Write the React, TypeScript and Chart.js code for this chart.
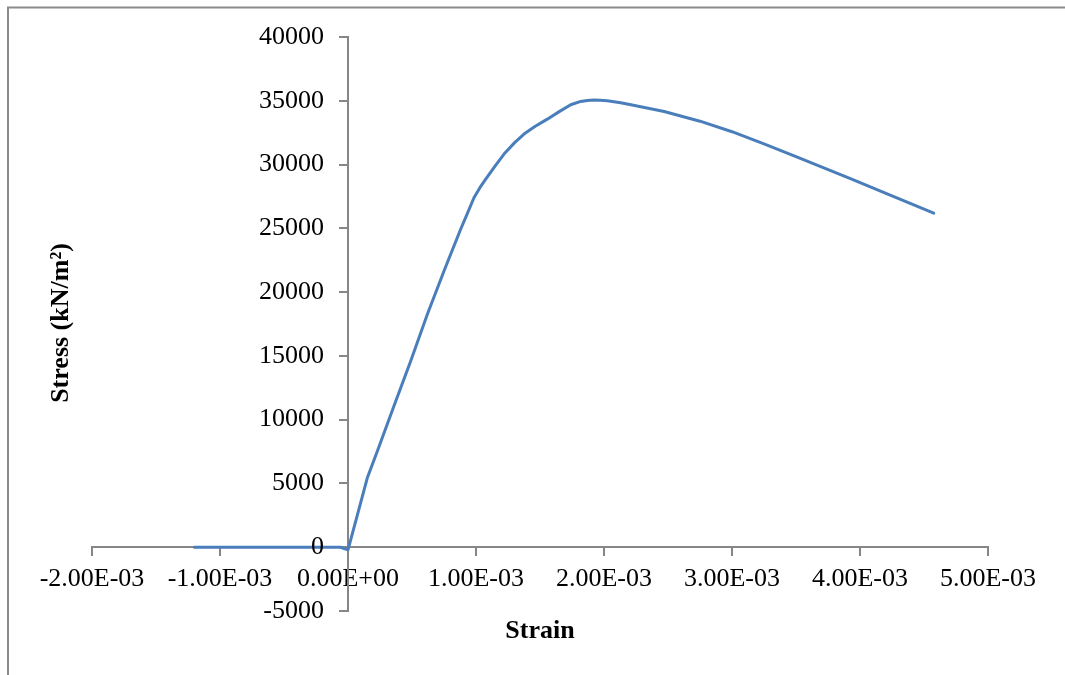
import React, { useEffect, useRef } from "react";
import { Chart, registerables } from "chart.js";

Chart.register(...registerables);

const strain = [
  -1.2e-3, -0.06e-3, 0, 0.151e-3, 0.229e-3, 0.359e-3, 0.49e-3, 0.62e-3, 0.75e-3,
  0.88e-3, 0.932e-3, 0.984e-3, 1.029e-3, 1.076e-3, 1.15e-3, 1.219e-3, 1.3e-3, 1.375e-3,
  1.46e-3, 1.557e-3, 1.65e-3, 1.74e-3, 1.818e-3, 1.87e-3, 1.922e-3, 1.97e-3, 2.026e-3,
  2.13e-3, 2.21e-3, 2.47e-3, 2.75e-3, 3.0e-3, 3.25e-3, 3.5e-3, 3.93e-3, 4.25e-3, 4.576e-3,
];
const stress = [
  0, 0, -200, 5440, 7530, 11070, 14600, 18260, 21660, 24930, 26150, 27400, 28170,
  28855, 29900, 30820, 31700, 32390, 32980, 33560, 34150, 34690, 34950, 35030, 35054,
  35045, 35000, 34845, 34690, 34160, 33400, 32575, 31625, 30625, 28880, 27550, 26190,
];
const xTickLabels = [
  "-2.00E-03", "-1.00E-03", "0.00E+00", "1.00E-03", "2.00E-03", "3.00E-03", "4.00E-03", "5.00E-03",
];
const yTickValues = [-5000, 0, 5000, 10000, 15000, 20000, 25000, 30000, 35000, 40000];
const yTickLabels = ["-5000", "0", "5000", "10000", "15000", "20000", "25000", "30000", "35000", "40000"];
const xTitle = "Strain";
const yTitle = "Stress (kN/m²)";

const AXIS = "#868686";
const FONT = '"Liberation Serif", "Times New Roman", serif';

export default function App() {
  const ref = useRef<HTMLCanvasElement | null>(null);
  useEffect(() => {
    if (!ref.current) return;
    const decor = {
      id: "decor",
      beforeDraw(chart: any) {
        const ctx = chart.ctx;
        ctx.save();
        ctx.fillStyle = "#fff";
        ctx.fillRect(0, 0, chart.width, chart.height);
        ctx.strokeStyle = "#8a8a8a";
        ctx.lineWidth = 2;
        ctx.beginPath();
        ctx.moveTo(8, 675);
        ctx.lineTo(8, 7.5);
        ctx.lineTo(1065, 7.5);
        ctx.stroke();
        ctx.restore();
      },
      afterDraw(chart: any) {
        const ctx = chart.ctx;
        const xs = chart.scales.x;
        const ys = chart.scales.y;
        ctx.save();
        ctx.fillStyle = "#000";
        ctx.font = `26px ${FONT}`;
        ctx.textAlign = "right";
        ctx.textBaseline = "middle";
        const ax = xs.getPixelForValue(0);
        yTickValues.forEach((v, i) => {
          ctx.fillText(yTickLabels[i], ax - 24, ys.getPixelForValue(v));
        });
        ctx.font = `bold 26px ${FONT}`;
        ctx.textAlign = "center";
        ctx.fillText(xTitle, 540, 631);
        ctx.translate(61, 323);
        ctx.rotate(-Math.PI / 2);
        ctx.fillText(yTitle, 0, 0);
        ctx.restore();
      },
    };
    const chart = new Chart(ref.current, {
      type: "line",
      data: {
        datasets: [
          {
            data: strain.map((x, i) => ({ x, y: stress[i] })),
            borderColor: "#4A7EBB",
            borderWidth: 3,
            pointRadius: 0,
            fill: false,
            tension: 0,
            borderJoinStyle: "round",
            borderCapStyle: "round",
          },
        ],
      },
      options: {
        responsive: false,
        animation: false,
        events: [],
        layout: { padding: { left: 92, right: 77, top: 37, bottom: 64 } },
        plugins: { legend: { display: false }, tooltip: { enabled: false } },
        scales: {
          x: {
            type: "linear",
            position: { y: 0 },
            min: -0.002,
            max: 0.005,
            ticks: {
              stepSize: 0.001,
              autoSkip: false,
              maxRotation: 0,
              padding: 8,
              color: "#000",
              font: { family: FONT, size: 26 },
              callback: (_v: any, i: number) => xTickLabels[i],
            },
            grid: { drawOnChartArea: false, drawTicks: true, tickLength: 8, color: AXIS, lineWidth: 2 },
            border: { display: true, color: AXIS, width: 2 },
          },
          y: {
            type: "linear",
            position: { x: 0 },
            min: -5000,
            max: 40000,
            ticks: {
              stepSize: 5000,
              autoSkip: false,
              display: false,
            },
            grid: { drawOnChartArea: false, drawTicks: true, tickLength: 8, color: AXIS, lineWidth: 2 },
            border: { display: true, color: AXIS, width: 2 },
          },
        },
      },
      plugins: [decor],
    } as any);
    return () => chart.destroy();
  }, []);
  return (
    <canvas
      ref={ref}
      width={1065}
      height={675}
      style={{ position: "fixed", left: 0, top: 0, width: 1065, height: 675 }}
    />
  );
}
